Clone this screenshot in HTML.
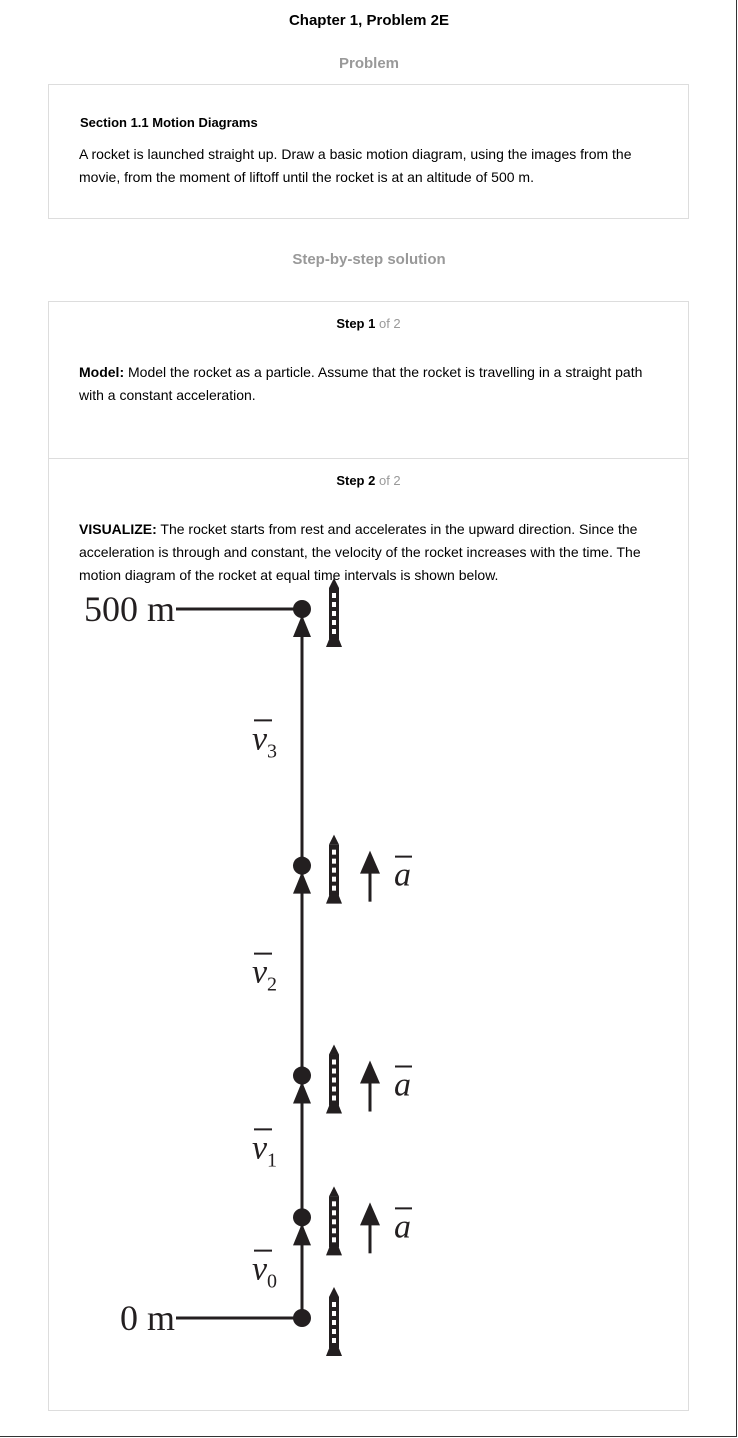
<!DOCTYPE html>
<html><head><meta charset="utf-8"><style>
body{margin:0;width:738px;height:1438px;background:#fff;font-family:"Liberation Sans",sans-serif;color:#000;position:relative;overflow:hidden}
.frame{position:absolute;left:0;top:0;width:736px;height:1436px;border-right:1px solid #333;border-bottom:1px solid #333}
.t{position:absolute;white-space:nowrap}
.box{position:absolute;border:1px solid #ddd;box-sizing:border-box}
p{margin:0}
</style></head><body>
<div class="frame"></div>
<div class="t" style="left:0;width:738px;text-align:center;top:12px;font-size:15px;font-weight:bold">Chapter 1, Problem 2E</div>
<div class="t" style="left:0;width:738px;text-align:center;top:55px;font-size:15px;font-weight:bold;color:#999">Problem</div>
<div class="box" style="left:48px;top:84px;width:641px;height:135px">
 <div class="t" style="left:31px;top:30px;font-size:13px;font-weight:bold">Section 1.1 Motion Diagrams</div>
 <div class="t" style="left:30px;top:58px;font-size:14px;line-height:23px;white-space:normal;width:580px">A rocket is launched straight up. Draw a basic motion diagram, using the images from the movie, from the moment of liftoff until the rocket is at an altitude of 500 m.</div>
</div>
<div class="t" style="left:0;width:738px;text-align:center;top:251px;font-size:15px;font-weight:bold;color:#999">Step-by-step solution</div>
<div class="box" style="left:48px;top:301px;width:641px;height:1110px">
 <div class="t" style="left:0;width:639px;text-align:center;top:14px;font-size:13px"><b>Step 1</b> <span style="color:#999">of 2</span></div>
 <div class="t" style="left:30px;top:59px;font-size:14px;line-height:23px;white-space:normal;width:580px"><b>Model:</b> Model the rocket as a particle. Assume that the rocket is travelling in a straight path with a constant acceleration.</div>
 <div style="position:absolute;left:0;top:156px;width:639px;height:1px;background:#ddd"></div>
 <div class="t" style="left:0;width:639px;text-align:center;top:171px;font-size:13px"><b>Step 2</b> <span style="color:#999">of 2</span></div>
 <div class="t" style="left:30px;top:216px;font-size:14px;line-height:23px;white-space:normal;width:580px"><b>VISUALIZE:</b> The rocket starts from rest and accelerates in the upward direction. Since the acceleration is through and constant, the velocity of the rocket increases with the time. The motion diagram of the rocket at equal time intervals is shown below.</div>
</div>
<svg id="diag" width="738" height="1438" style="position:absolute;left:0;top:0"></svg>
<script>
const heights=[0,71,171,319,500];
const velLabels=["0","1","2","3"];
const accelShown=[false,true,true,true,false];
const axisLabels=["0 m","500 m"];
const y=h=>1318-h*709/500;
const NS="http://www.w3.org/2000/svg";
const svg=document.getElementById('diag');
function mk(tag,attrs,parent){const e=document.createElementNS(NS,tag);for(const k in attrs)e.setAttribute(k,attrs[k]);(parent||svg).appendChild(e);return e;}
const X=302;
let ln=mk('line',{x1:X,x2:X,y1:y(heights[0]),y2:y(heights[heights.length-1]),stroke:'#231f20','stroke-width':3});


[heights[0],heights[heights.length-1]].forEach((h,i)=>{
 const l=mk('line',{x1:176,x2:X,y1:y(h),y2:y(h),stroke:'#231f20','stroke-width':3});
 
 
 const t=mk('text',{x:175,y:y(h)+12,'text-anchor':'end','font-family':'Liberation Serif, serif','font-size':36,fill:'#231f20'});
 t.textContent=axisLabels[i];
 
 
});
heights.forEach((h,i)=>{
 const yy=y(h);
 const g=mk('g',{});
 
 
 if(i>0){
  const a=mk('polygon',{points:`${X},${yy+6} ${X-9},${yy+28} ${X+9},${yy+28}`,fill:'#231f20'},g);
  
  
  const mid=(yy+y(heights[i-1]))/2;
  const v=mk('text',{x:252,y:mid+12,'font-family':'Liberation Serif, serif','font-style':'italic','font-size':34,fill:'#231f20'},g);
  v.textContent='v';
  
  
  const s=mk('text',{x:267,y:mid+20,'font-family':'Liberation Serif, serif','font-size':20,fill:'#231f20'},g);
  s.textContent=velLabels[i-1];
  mk('line',{x1:254,x2:272,y1:mid-17,y2:mid-17,stroke:'#231f20','stroke-width':2},g);
 }
 const d=mk('circle',{cx:X,cy:yy,r:9,fill:'#231f20'},g);
 
 
 const r=mk('g',{fill:'#231f20'},g);
 
 
 mk('polygon',{points:`334,${yy-31} 339,${yy-21} 329,${yy-21}`},r);
 mk('rect',{x:329,y:yy-21,width:10,height:51},r);
 mk('polygon',{points:`330,${yy+28} 326,${yy+38} 342,${yy+38} 338,${yy+28}`},r);
 for(let k=0;k<5;k++)mk('rect',{x:332,y:yy-16+k*9,width:4,height:5,fill:'#fff'},r);
 if(accelShown[i]){
  const aa=mk('g',{},g);
  
  
  mk('line',{x1:370,x2:370,y1:yy-4,y2:yy+36,stroke:'#231f20','stroke-width':3},aa);
  mk('polygon',{points:`370,${yy-15} 360,${yy+8} 380,${yy+8}`,fill:'#231f20'},aa);
  const t=mk('text',{x:394,y:yy+20,'font-family':'Liberation Serif, serif','font-style':'italic','font-size':34,fill:'#231f20'},aa);
  t.textContent='a';
  mk('line',{x1:395,x2:412,y1:yy-9,y2:yy-9,stroke:'#231f20','stroke-width':2},aa);
 }
});
</script>
</body></html>
